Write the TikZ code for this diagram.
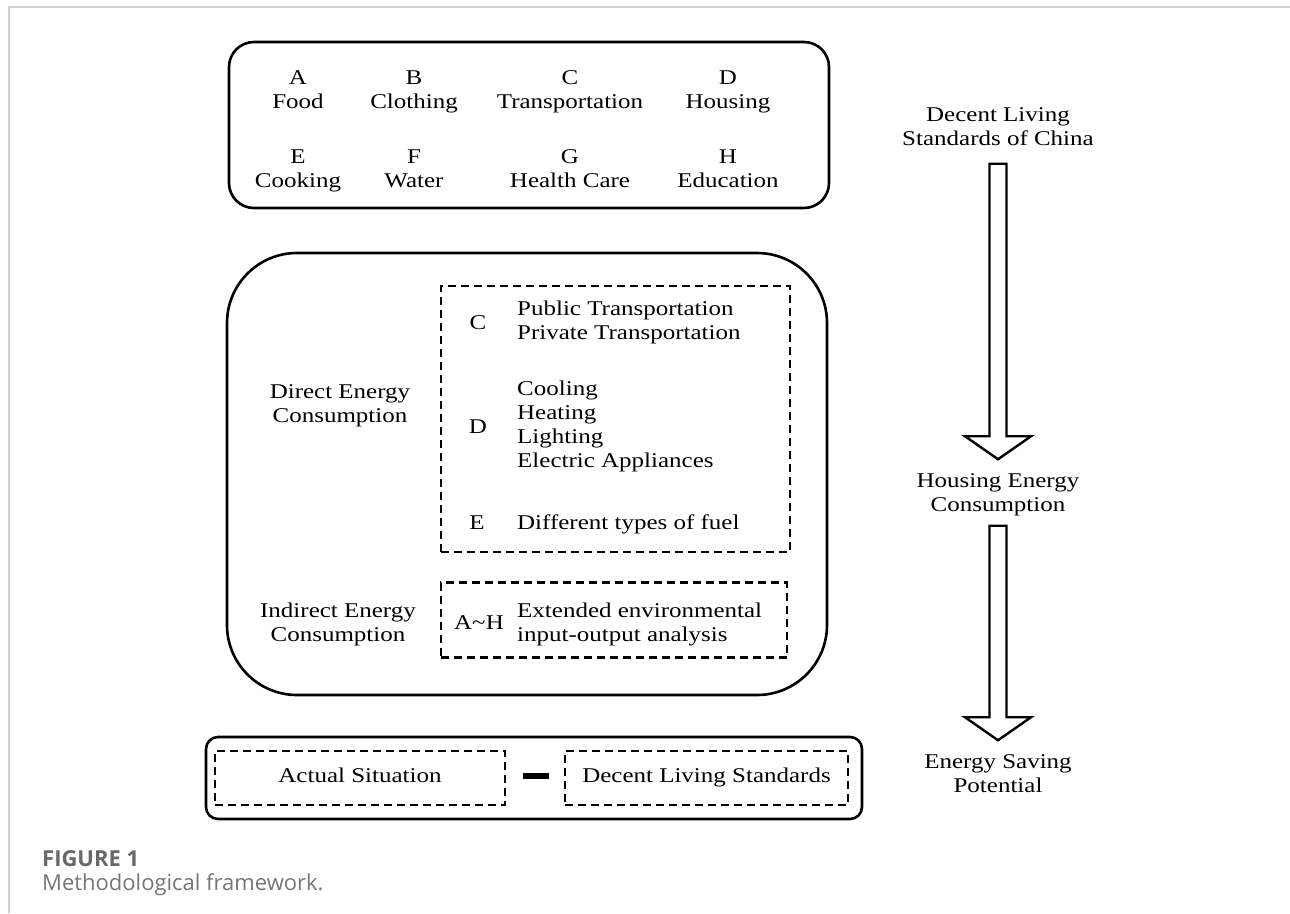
\documentclass[tikz,border=0pt]{standalone}
\usepackage{fontspec}
\setmainfont{Liberation Serif}[FakeStretch=1.19]
\newfontfamily\capfont{Open Sans}
\usetikzlibrary{calc}

\definecolor{capgray}{HTML}{686868}
\definecolor{txtgray}{HTML}{767676}
\definecolor{framegray}{HTML}{D0D0D0}

\begin{document}
\begin{tikzpicture}[
  x=1pt, y=-1pt,
  lbl/.style={font=\fontsize{21}{24}\selectfont, align=center, inner sep=2pt,
    execute at begin node=\strut, execute at end node=\strut},
  roundbox/.style={draw, line width=2.6pt, inner sep=0pt},
  dashbox/.style={draw, line width=2.6pt, dash pattern=on 8pt off 5pt, inner sep=0pt},
  fatarrow/.style 2 args={draw, line width=2.4pt, line join=miter,
    to path={let \p1=(\tikztostart), \p2=(\tikztotarget) in
      (\x1-8.5pt,\y1-#1) -- (\x1-8.5pt,\y2+#2+23pt) -- (\x1-33pt,\y2+#2+23pt)
      -- (\x1,\y2+#2) -- (\x1+33pt,\y2+#2+23pt) -- (\x1+8.5pt,\y2+#2+23pt)
      -- (\x1+8.5pt,\y1-#1) -- cycle}},
  captxt/.style={anchor=base west, inner sep=0pt, font=\capfont\fontsize{22}{26}\selectfont}
]
\fill[white] (0,0) rectangle (1290,913);
\useasboundingbox (0,0) rectangle (1290,913);
\draw[framegray, line width=2pt] (1290,7) -- (9,7) -- (9,913);

% the eight needs
\node[roundbox, minimum width=600pt, minimum height=166pt, rounded corners=25pt] (needs) at (529,125) {};
\node[lbl] (catA) at (298,93.5) {A\\Food};
\node[lbl] (catB) at (414,93.5) {B\\Clothing};
\node[lbl] (catC) at (570,93.5) {C\\Transportation};
\node[lbl] (catD) at (728,93.5) {D\\Housing};
\node[lbl] (catE) at (298,172.5) {E\\Cooking};
\node[lbl] (catF) at (414,172.5) {F\\Water};
\node[lbl] (catG) at (570,172.5) {G\\Health Care};
\node[lbl] (catH) at (728,172.5) {H\\Education};

% energy accounting
\node[roundbox, minimum width=600pt, minimum height=442pt, rounded corners=70pt] (energy) at (527,474) {};
\node[lbl] (direct) at (340,407.5) {Direct Energy\\Consumption};
\node[lbl] (indirect) at (338,625.5) {Indirect Energy\\Consumption};
\node[dashbox, minimum width=349pt, minimum height=266pt] (dbox) at (615.5,419) {};
\node[dashbox, minimum width=346pt, minimum height=75pt] (ibox) at (614,620) {};
\node[lbl] (dC) at (478,324.5) {C};
\node[lbl, anchor=west, align=left] (dCt) at (515,324) {Public Transportation\\Private Transportation};
\node[lbl] (dD) at (478,428.5) {D};
\node[lbl, anchor=west, align=left] (dDt) at (515,428) {Cooling\\Heating\\Lighting\\Electric Appliances};
\node[lbl] (dE) at (477,524.5) {E};
\node[lbl, anchor=west] (dEt) at (515,524.5) {Different types of fuel};
\node[lbl] (dAH) at (479,624.5) {A\textasciitilde H};
\node[lbl, anchor=west, align=left] (dAHt) at (515,625.5) {Extended environmental\\input-output analysis};

% saving potential
\node[roundbox, minimum width=656pt, minimum height=82pt, rounded corners=12pt] (diff) at (534,778) {};
\node[dashbox, lbl, minimum width=290pt, minimum height=54pt] (actual) at (360,778) {Actual Situation};
\node[fill, minimum width=26pt, minimum height=6pt, inner sep=0pt] (minus) at (536,776) {};
\node[dashbox, lbl, minimum width=283pt, minimum height=54pt] (decent) at (706.5,778) {Decent Living Standards};

% right column
\node[lbl] (dls) at (998,130.5) {Decent Living\\Standards of China};
\node[lbl] (hec) at (998,496.5) {Housing Energy\\Consumption};
\node[lbl] (esp) at (998,777.5) {Energy Saving\\Potential};
\draw[fatarrow={8.5pt}{12.5pt}] (dls.south) to (hec.north);
\draw[fatarrow={4.5pt}{12.5pt}] (hec.south) to (esp.north);

% caption
\node[captxt, text=capgray, font=\capfont\bfseries\fontsize{22}{26}\selectfont] (figno) at (42,866) {FIGURE 1};
\node[captxt, text=txtgray] (figtxt) at (42,890) {Methodological framework.};
\end{tikzpicture}
\end{document}
